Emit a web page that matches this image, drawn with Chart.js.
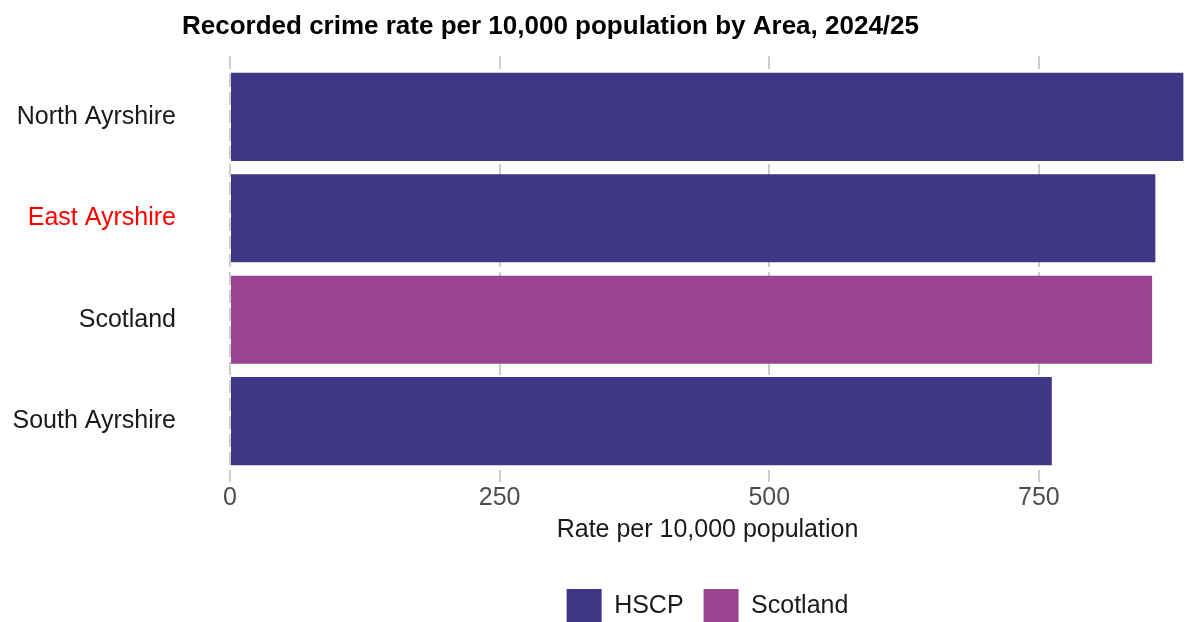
<!DOCTYPE html>
<html>
<head>
<meta charset="utf-8">
<title>Recorded crime rate per 10,000 population by Area, 2024/25</title>
<script src="https://cdn.jsdelivr.net/npm/chart.js@4.4.1/dist/chart.umd.min.js"></script>
<style>
  html, body { margin: 0; padding: 0; background: #fff; overflow: hidden; }
  .chart-wrapper { position: absolute; left: 0; top: 0; width: 1185px; height: 634px; }
</style>
</head>
<body>
<div class="chart-wrapper">
  <canvas id="myChart"></canvas>
</div>
<script>
// data
const areas = ["North Ayrshire", "East Ayrshire", "Scotland", "South Ayrshire"];
const rates = [884, 858, 855, 762];
const groups = ["HSCP", "HSCP", "Scotland", "HSCP"];
const seriesNames = ["HSCP", "Scotland"];
const seriesColours = ["#3f3685", "#99448f"];
const xTicks = [0, 250, 500, 750];
const highlightArea = "East Ayrshire";

Chart.defaults.font.family = "'Liberation Sans', Arial, sans-serif";

const datasets = seriesNames.map((name, s) => ({
  label: name,
  data: areas.map((a, i) => ({ x: rates[i], y: i })).filter((d, i) => groups[i] === name),
  backgroundColor: seriesColours[s],
  borderWidth: 0,
  grouped: false,
  categoryPercentage: 1,
  barPercentage: 0.868
}));

// title sits left of centre in the reference, so draw it by hand
const titlePlugin = {
  id: "titlePlugin",
  afterDraw(chart) {
    const ctx = chart.ctx;
    ctx.save();
    ctx.font = "bold 26px 'Liberation Sans', Arial, sans-serif";
    ctx.fillStyle = "#000";
    ctx.textAlign = "left";
    ctx.textBaseline = "alphabetic";
    ctx.fillText("Recorded crime rate per 10,000 population by Area, 2024/25", 182, 34);
    ctx.restore();
  }
};

new Chart(document.getElementById("myChart"), {
  type: "bar",
  data: { datasets: datasets },
  plugins: [titlePlugin],
  options: {
    indexAxis: "y",
    responsive: true,
    maintainAspectRatio: false,
    animation: false,
    layout: { padding: { top: 56, left: 0, right: 0, bottom: 0 } },
    scales: {
      x: {
        type: "linear",
        min: 0,
        max: 885.5,
        afterBuildTicks: s => { s.ticks = xTicks.map(v => ({ value: v })); },
        afterFit: s => { s.height = 87; },
        grid: { color: "#cccccc", lineWidth: 2, drawTicks: false },
        border: { display: false, dash: [13, 5] },
        ticks: { color: "#4d4d4d", font: { size: 25 }, padding: 1, includeBounds: false },
        title: {
          display: true,
          text: "Rate per 10,000 population",
          color: "#1a1a1a",
          font: { size: 25 },
          padding: { top: 0, bottom: 24 }
        }
      },
      y: {
        type: "linear",
        reverse: true,
        offset: false,
        min: -0.6,
        max: 3.6,
        afterBuildTicks: s => { s.ticks = areas.map((a, i) => ({ value: i })); },
        // fixed axis width; drop the label padding Chart.js adds above/below
        afterFit: s => { s.width = 230; s.paddingTop = 0; s.paddingBottom = 0; },
        grid: { display: false, drawTicks: false, offset: false },
        border: { display: false },
        ticks: {
          padding: 54,
          font: { size: 25 },
          color: c => areas[c.tick.value] === highlightArea ? "#ff0000" : "#1a1a1a",
          callback: v => areas[v]
        }
      }
    },
    plugins: {
      title: { display: false },
      tooltip: { enabled: false },
      legend: {
        position: "bottom",
        fullSize: false,
        labels: {
          boxWidth: 35,
          boxHeight: 35,
          padding: 20,
          color: "#1a1a1a",
          font: { size: 25 }
        }
      }
    }
  }
});
</script>
</body>
</html>
